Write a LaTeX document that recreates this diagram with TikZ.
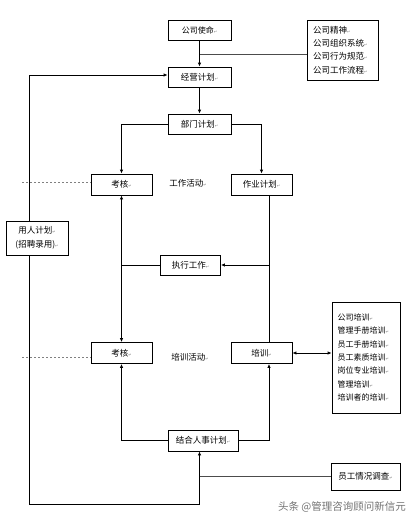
\documentclass[tikz,border=0pt]{standalone}
\usepackage{fontspec}
\setmainfont{Noto Sans CJK SC}
\newfontfamily\symfont{DejaVu Sans}
\usetikzlibrary{arrows.meta}
\newcommand{\pmk}{{\symfont\fontsize{4}{4}\selectfont\color{gray}↵}}
\begin{document}
\begin{tikzpicture}[x=1pt,y=-1pt,
  font=\fontsize{8.5}{14}\selectfont,
  box/.style={draw, line width=0.8pt, inner sep=0pt, align=center, fill=white},
  listbox/.style={draw, line width=0.8pt, inner ysep=0pt, align=left, fill=white},
  conn/.style={line width=0.8pt},
  arr/.style={line width=0.8pt, -{Latex[length=4pt,width=3.5pt]}},
  darr/.style={line width=0.8pt, {Latex[length=4pt,width=3.5pt]}-{Latex[length=4pt,width=3.5pt]}},
  thin/.style={line width=0.5pt, black!70},
  dots/.style={line width=0.5pt, gray, dash pattern=on 2pt off 2pt},
  lbl/.style={inner sep=0pt}]
\useasboundingbox (0,0) rectangle (417,522);

% nodes
\node[box, minimum width=63pt, minimum height=20pt, font=\fontsize{8}{13}\selectfont] (mission) at (199.5,30) {公司使命\pmk};
\node[box, minimum width=63pt, minimum height=20pt] (biz) at (199.5,77) {经营计划\pmk};
\node[box, minimum width=63pt, minimum height=20pt] (dept) at (199.5,124) {部门计划\pmk};
\node[listbox, text width=59pt, inner xsep=6pt, minimum height=60pt, font=\fontsize{8.5}{13.3}\selectfont] (spirit) at (342.5,50)
  {公司精神\pmk\\公司组织系统\pmk\\公司行为规范\pmk\\公司工作流程\pmk};
\node[box, minimum width=61pt, minimum height=21pt] (kh1) at (121.5,184.5) {考核\pmk};
\node[lbl] (worktxt) at (188,183) {工作活动\pmk};
\node[box, minimum width=61pt, minimum height=21pt] (job) at (261.5,184.5) {作业计划\pmk};
\node[box, minimum width=62pt, minimum height=34pt] (hire) at (37,238) {用人计划\pmk\\(招聘录用)\pmk};
\node[box, minimum width=60pt, minimum height=20pt] (exec) at (190.5,265) {执行工作\pmk};
\node[box, minimum width=61pt, minimum height=21pt] (kh2) at (121.5,353) {考核\pmk};
\node[lbl] (traintxt) at (190,357) {培训活动\pmk};
\node[box, minimum width=61pt, minimum height=21pt] (train) at (261.5,353) {培训\pmk};
\node[listbox, text width=57pt, inner xsep=5.5pt, minimum height=111pt, font=\fontsize{8}{13.3}\selectfont] (tlist) at (366,357.5)
  {公司培训\pmk\\管理手册培训\pmk\\员工手册培训\pmk\\员工素质培训\pmk\\岗位专业培训\pmk\\管理培训\pmk\\培训者的培训\pmk};
\node[box, minimum width=70pt, minimum height=21pt] (combine) at (203,440.5) {结合人事计划\pmk};
\node[box, minimum width=69pt, minimum height=27pt] (survey) at (365.5,476.5) {员工情况调查\pmk};
\node[lbl, text=black!55, font=\fontsize{10.5}{12}\selectfont] (wm) at (342,507) {头条 @管理咨询顾问新信元};

% coordinates
\coordinate (lt) at (29,75);
\coordinate (bl) at (29,504);
\coordinate (br) at (199.5,504);
\coordinate (xr) at (269,0);
\coordinate (sp) at (307,54);
\coordinate (d1) at (22,182);
\coordinate (d2) at (22,357);

% connectors
\draw[arr] (mission) -- (biz);
\draw[thin] (sp) -- (sp -| mission.south);
\draw[arr] (biz) -- (dept);
\draw[arr] (lt) -- (lt -| biz.west);
\draw[conn] (lt) -- (lt |- hire.north);
\draw[conn] (bl |- hire.south) -- (bl) -- (br);
\draw[arr] (br) -- (br |- combine.south);
\draw[thin] (br |- survey.west) -- (survey.west);
\draw[arr] (dept.west) -| (kh1.north);
\draw[arr] (dept.east) -| (job.north);
\draw[darr] (kh1.south) -- (kh2.north);
\draw[conn] (exec.west) -- (exec.west -| kh1.south);
\draw[conn] (job.south -| xr) -- (train.north -| xr);
\draw[arr] (exec.east -| xr) -- (exec.east);
\draw[arr] (combine.west) -| (kh2.south);
\draw[arr] (combine.east) -| (train.south -| xr);
\draw[darr] (train.east) -- (train.east -| tlist.west);
\draw[dots] (d1) -- (d1 -| kh1.west);
\draw[dots] (d2) -- (d2 -| kh2.west);
\end{tikzpicture}
\end{document}
